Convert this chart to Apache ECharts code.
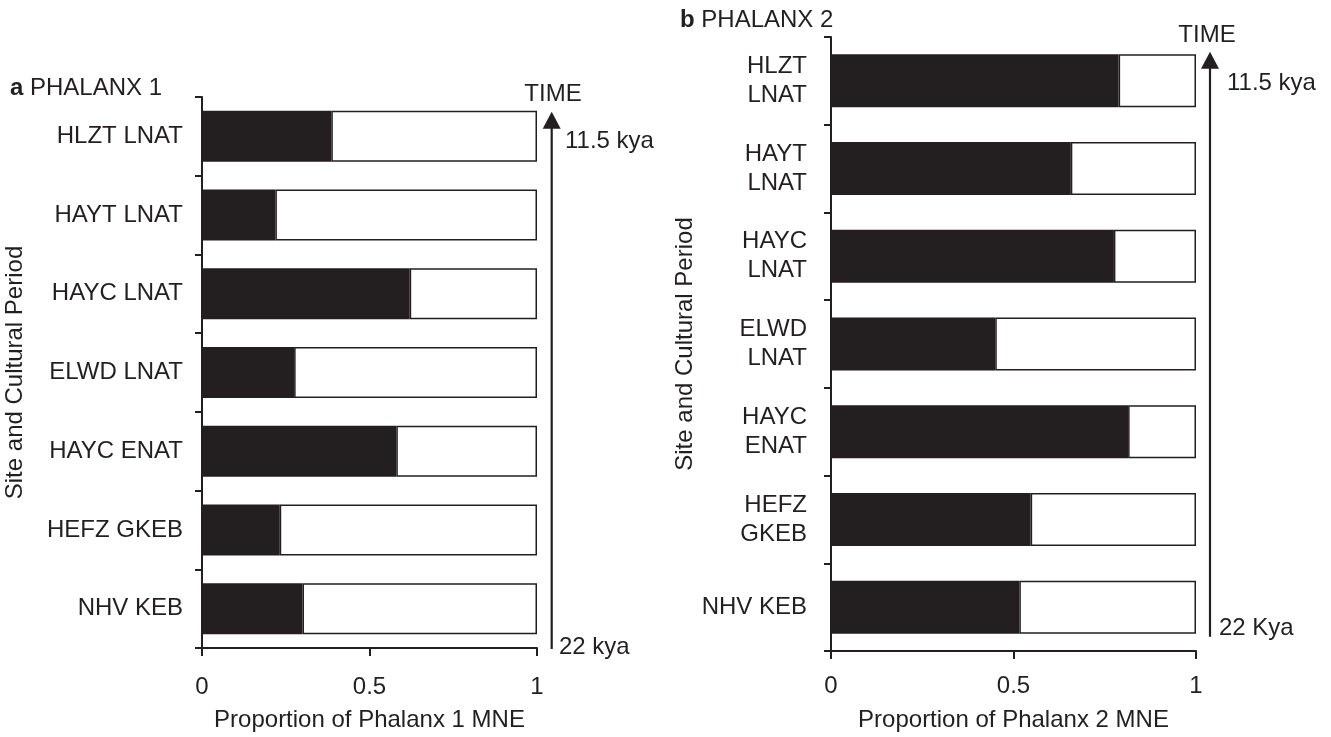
<!DOCTYPE html>
<html><head><meta charset="utf-8">
<script src="https://cdn.jsdelivr.net/npm/echarts@6/dist/echarts.min.js"></script>
<style>html,body{margin:0;padding:0;background:#fff}#c{width:1331px;height:737px}</style>
</head><body><div id="c"></div>
<script>
const catsA = ['HLZT LNAT','HAYT LNAT','HAYC LNAT','ELWD LNAT','HAYC ENAT','HEFZ GKEB','NHV KEB'];
const catsB = ['HLZT\nLNAT','HAYT\nLNAT','HAYC\nLNAT','ELWD\nLNAT','HAYC\nENAT','HEFZ\nGKEB','NHV KEB'];
const valsA = [0.386, 0.219, 0.620, 0.275, 0.580, 0.232, 0.300];
const valsB = [0.788, 0.657, 0.775, 0.450, 0.814, 0.547, 0.516];
const xTicks = [0, 0.5, 1];

const FF = 'Liberation Sans, Arial, Helvetica, sans-serif';
const INK = '#231f20';
const chart = echarts.init(document.getElementById('c'));

function rest(v){ return v.map(x => +(1 - x).toFixed(4)); }
function xAxisCfg(idx, name, margin, gap){
  return {type:'value', gridIndex:idx, min:0, max:1, interval:0.5,
    axisLine:{show:true, lineStyle:{color:INK, width:2}},
    axisTick:{show:true, length:8, lineStyle:{color:INK, width:2}},
    splitLine:{show:false},
    axisLabel:{fontFamily:FF, fontSize:24, color:INK, margin:margin,
      formatter: v => xTicks.includes(v) ? String(v) : ''},
    name:name, nameLocation:'middle', nameGap:gap,
    nameTextStyle:{fontFamily:FF, fontSize:24, color:INK}};
}
function yAxisCfg(idx, cats, margin, gap, lh){
  return {type:'category', gridIndex:idx, data:cats, inverse:true,
    axisLine:{show:true, lineStyle:{color:INK, width:2}},
    axisTick:{show:true, length:7, lineStyle:{color:INK, width:2}},
    axisLabel:{fontFamily:FF, fontSize:24, color:INK, margin:margin, lineHeight:lh, align:'right'},
    name:'Site and Cultural Period', nameLocation:'middle', nameRotate:90, nameGap:gap,
    nameTextStyle:{fontFamily:FF, fontSize:24, color:INK}};
}
function barSeries(idx, vals, bw){
  return [
    {type:'bar', xAxisIndex:idx, yAxisIndex:idx, stack:'s'+idx, data:vals, barWidth:bw,
      itemStyle:{color:INK, borderColor:INK, borderWidth:1.5}, silent:true},
    {type:'bar', xAxisIndex:idx, yAxisIndex:idx, stack:'s'+idx, data:rest(vals), barWidth:bw,
      itemStyle:{color:'#fff', borderColor:INK, borderWidth:1.5}, silent:true}
  ];
}

function arrow(x, yTip, yBase, yEnd){
  return [
    {type:'line', shape:{x1:x, y1:yBase, x2:x, y2:yEnd}, style:{stroke:INK, lineWidth:2.2}},
    {type:'polygon', shape:{points:[[x, yTip],[x-9, yBase+1],[x+9, yBase+1]]}, style:{fill:INK}}
  ];
}
const t = (x, y, s, align) => ({type:'text', x:x, y:y, style:{text:s, font:'24px '+FF, fill:INK, textAlign:align, textVerticalAlign:'middle'}});

chart.setOption({
  animation:false,
  grid:[
    {left:202, top:97, width:335, height:552},
    {left:831, top:37, width:365, height:615}
  ],
  xAxis:[ xAxisCfg(0, 'Proportion of Phalanx 1 MNE', 27, 60), xAxisCfg(1, 'Proportion of Phalanx 2 MNE', 23, 57) ],
  yAxis:[ yAxisCfg(0, catsA, 19, 175, 28), yAxisCfg(1, catsB, 24, 133, 29) ],
  series:[...barSeries(0, valsA, 51), ...barSeries(1, valsB, 53)],
  graphic:[
    {type:'text', left:10, top:76, style:{rich:{b:{font:'bold 24px '+FF, fill:INK}, n:{font:'24px '+FF, fill:INK}}, text:'{b|a}{n| PHALANX 1}'}},
    {type:'text', left:680, top:8, style:{rich:{b:{font:'bold 24px '+FF, fill:INK}, n:{font:'24px '+FF, fill:INK}}, text:'{b|b}{n| PHALANX 2}'}},
    ...arrow(551.7, 111.7, 127.7, 649),
    ...arrow(1210, 51.7, 67.7, 636.7),
    t(553, 94, 'TIME', 'center'),
    t(565, 141, '11.5 kya', 'left'),
    t(559, 647, '22 kya', 'left'),
    t(1207, 35, 'TIME', 'center'),
    t(1227, 83, '11.5 kya', 'left'),
    t(1219, 628, '22 Kya', 'left')
  ]
});
</script></body></html>
